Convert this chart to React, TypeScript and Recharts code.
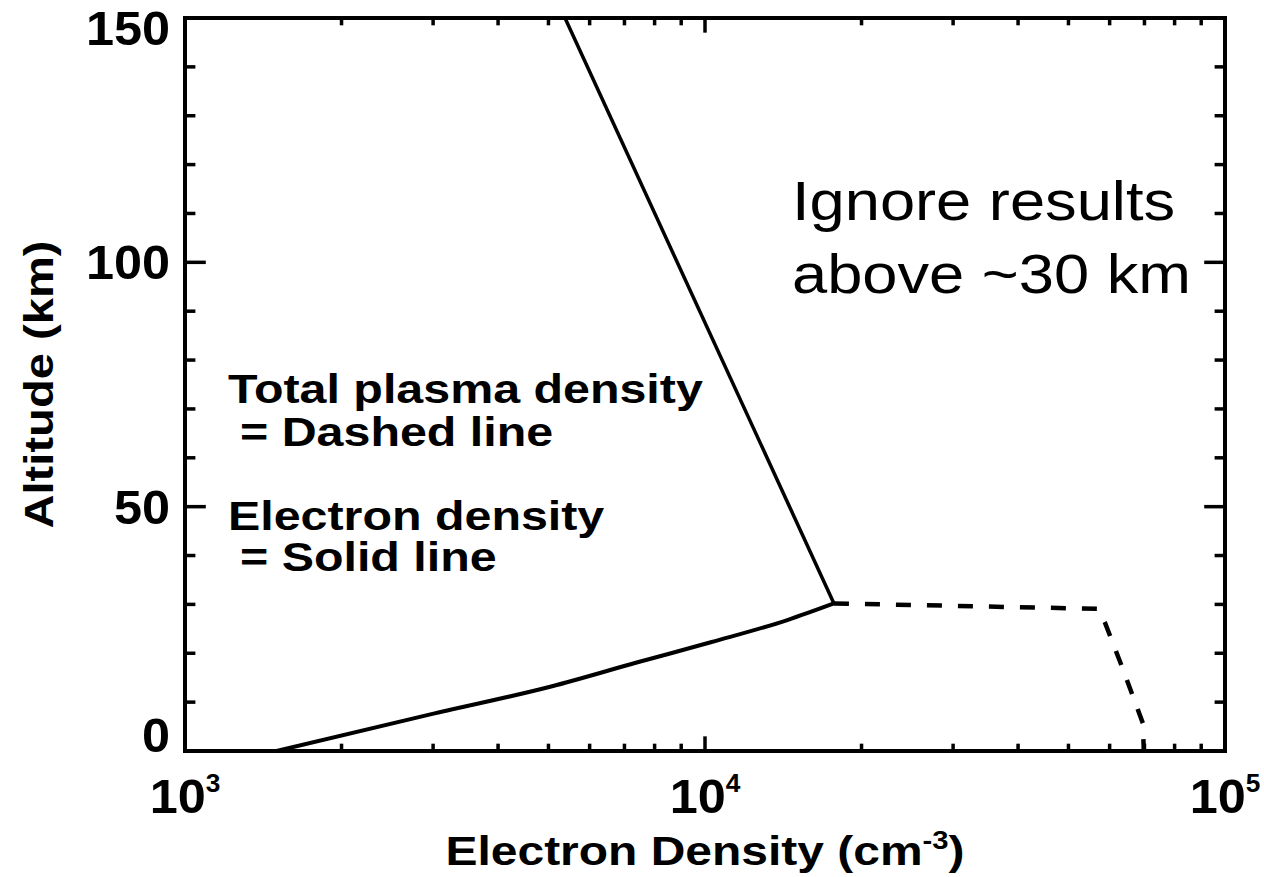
import { ComposedChart, Line, XAxis, YAxis, Customized } from 'recharts';

// Electron density profile (solid): altitude in km, density in cm^-3.
// Lower branch is the modelled curve, upper branch the straight extrapolation.
const electronLowAlt = [0, 7.7, 13.2, 18.1, 22.3, 26.8, 30.2];
const electronLowDensity = [1500, 3020, 5060, 7390, 10300, 14400, 17700];
const electronHighAlt = [30.2, 150];
const electronHighDensity = [17700, 5380];

// Total plasma density profile (dashed)
const plasmaAlt = [30.2, 29.1, 26.2, 17.2, 5.7, 0];
const plasmaDensity = [17700, 57000, 58800, 63400, 69500, 69800];

const densityTicks = [
  1000, 2000, 3000, 4000, 5000, 6000, 7000, 8000, 9000,
  10000, 20000, 30000, 40000, 50000, 60000, 70000, 80000, 90000,
  100000,
];
const densityMajor = [1000, 10000, 100000];
const altTicks = [0, 10, 20, 30, 40, 50, 60, 70, 80, 90, 100, 110, 120, 130, 140, 150];
const altMajor = [0, 50, 100, 150];

const toPoints = (alts: number[], dens: number[]) =>
  alts.map((alt, i) => ({ alt, density: dens[i] }));
const electronLowData = toPoints(electronLowAlt, electronLowDensity);
const electronHighData = toPoints(electronHighAlt, electronHighDensity);
const plasmaData = toPoints(plasmaAlt, plasmaDensity);

const FONT = '"Liberation Sans", Arial, Helvetica, sans-serif';
const W = 1264;
const H = 877;
const PLOT = { left: 185, right: 1225, top: 18, bottom: 751 };
const TICK_W = 3.5;

// IDL-style tick lengths: 2% of the perpendicular plot size, minors half
const xMajorLen = 0.02 * (PLOT.bottom - PLOT.top);
const yMajorLen = 0.02 * (PLOT.right - PLOT.left);

const BottomTick = ({ x, y, payload }: any) => {
  const v = payload.value;
  const major = densityMajor.includes(v);
  const len = major ? xMajorLen : xMajorLen / 2;
  return (
    <g>
      <line x1={x} x2={x} y1={y} y2={y - len} stroke="#000" strokeWidth={TICK_W} />
      {major && (
        <text
          transform={`translate(${x} ${y + 62}) scale(1.05 1)`}
          textAnchor="middle"
          fontFamily={FONT}
          fontWeight="bold"
          fontSize={48}
          fill="#000"
        >
          <tspan>10</tspan>
          <tspan dy={-21} fontSize={25}>{Math.round(Math.log10(v))}</tspan>
        </text>
      )}
    </g>
  );
};

const TopTick = ({ x, y, payload }: any) => {
  const major = densityMajor.includes(payload.value);
  const len = major ? xMajorLen : xMajorLen / 2;
  return <line x1={x} x2={x} y1={y} y2={y + len} stroke="#000" strokeWidth={TICK_W} />;
};

const LeftTick = ({ x, y, payload }: any) => {
  const v = payload.value;
  const major = altMajor.includes(v);
  const len = major ? yMajorLen : yMajorLen / 2;
  // end labels are nudged inward so they stay clear of the frame corners
  const base = v === 150 ? y + 27 : v === 0 ? y + 1 : y + 17;
  return (
    <g>
      <line x1={x} x2={x + len} y1={y} y2={y} stroke="#000" strokeWidth={TICK_W} />
      {major && (
        <text
          transform={`translate(${x - 15} ${base}) scale(1.05 1)`}
          textAnchor="end"
          fontFamily={FONT}
          fontWeight="bold"
          fontSize={48}
          fill="#000"
        >
          {v}
        </text>
      )}
    </g>
  );
};

const RightTick = ({ x, y, payload }: any) => {
  const major = altMajor.includes(payload.value);
  const len = major ? yMajorLen : yMajorLen / 2;
  return <line x1={x} x2={x - len} y1={y} y2={y} stroke="#000" strokeWidth={TICK_W} />;
};

const Txt = ({ x, y, size, bold, sx, children, anchor, rotate }: any) => (
  <text
    transform={`translate(${x} ${y})${rotate ? ` rotate(${rotate})` : ''} scale(${sx} 1)`}
    textAnchor={anchor || 'start'}
    fontFamily={FONT}
    fontWeight={bold ? 'bold' : 'normal'}
    fontSize={size}
    fill="#000"
  >
    {children}
  </text>
);

const Annotations = () => (
  <g>
    <Txt x={(PLOT.left + PLOT.right) / 2} y={865} size={41} bold sx={1.17} anchor="middle">
      <tspan>Electron Density (cm</tspan>
      <tspan dy={-16} fontSize={25}>-3</tspan>
      <tspan dy={16}>)</tspan>
    </Txt>
    <Txt x={53} y={(PLOT.top + PLOT.bottom) / 2} size={41} bold sx={1.15} anchor="middle" rotate={-90}>
      Altitude (km)
    </Txt>

    <Txt x={228} y={403} size={41} bold sx={1.18}>Total plasma density</Txt>
    <Txt x={240} y={446} size={41} bold sx={1.18}>= Dashed line</Txt>
    <Txt x={228} y={530} size={41} bold sx={1.18}>Electron density</Txt>
    <Txt x={240} y={571} size={41} bold sx={1.18}>= Solid line</Txt>

    <Txt x={792} y={220} size={55} sx={1.15}>Ignore results</Txt>
    <Txt x={792} y={293} size={55} sx={1.15}>above ~30 km</Txt>
  </g>
);

const frame = { stroke: '#000', strokeWidth: 4, strokeLinecap: 'square' as const };

export default function App() {
  return (
    <div style={{ position: 'absolute', left: 0, top: 0, width: W, height: H, background: '#fff' }}>
      <ComposedChart width={W} height={H} margin={{ top: 0, right: 0, bottom: 0, left: 0 }}>
        <XAxis
          xAxisId="bottom"
          dataKey="density"
          type="number"
          scale="log"
          domain={[1000, 100000]}
          allowDataOverflow
          ticks={densityTicks}
          interval={0}
          height={H - PLOT.bottom}
          tickSize={0}
          tickMargin={0}
          tick={<BottomTick />}
          axisLine={frame}
        />
        <XAxis
          xAxisId="top"
          orientation="top"
          dataKey="density"
          type="number"
          scale="log"
          domain={[1000, 100000]}
          allowDataOverflow
          ticks={densityTicks}
          interval={0}
          height={PLOT.top}
          tickSize={0}
          tickMargin={0}
          tick={<TopTick />}
          axisLine={frame}
        />
        <YAxis
          yAxisId="left"
          type="number"
          domain={[0, 150]}
          allowDataOverflow
          ticks={altTicks}
          interval={0}
          width={PLOT.left}
          tickSize={0}
          tickMargin={0}
          tick={<LeftTick />}
          axisLine={frame}
        />
        <YAxis
          yAxisId="right"
          orientation="right"
          type="number"
          domain={[0, 150]}
          allowDataOverflow
          ticks={altTicks}
          interval={0}
          width={W - PLOT.right}
          tickSize={0}
          tickMargin={0}
          tick={<RightTick />}
          axisLine={frame}
        />
        <Line
          xAxisId="bottom"
          yAxisId="left"
          data={electronLowData}
          dataKey="alt"
          type="monotoneX"
          stroke="#000"
          strokeWidth={4}
          dot={false}
          activeDot={false}
          isAnimationActive={false}
        />
        <Line
          xAxisId="bottom"
          yAxisId="left"
          data={electronHighData}
          dataKey="alt"
          type="linear"
          stroke="#000"
          strokeWidth={3.5}
          dot={false}
          activeDot={false}
          isAnimationActive={false}
        />
        <Line
          xAxisId="bottom"
          yAxisId="left"
          data={plasmaData}
          dataKey="alt"
          type="linear"
          stroke="#000"
          strokeWidth={4.5}
          strokeDasharray="15 16"
          dot={false}
          activeDot={false}
          isAnimationActive={false}
        />
        <Customized component={<Annotations />} />
      </ComposedChart>
    </div>
  );
}
